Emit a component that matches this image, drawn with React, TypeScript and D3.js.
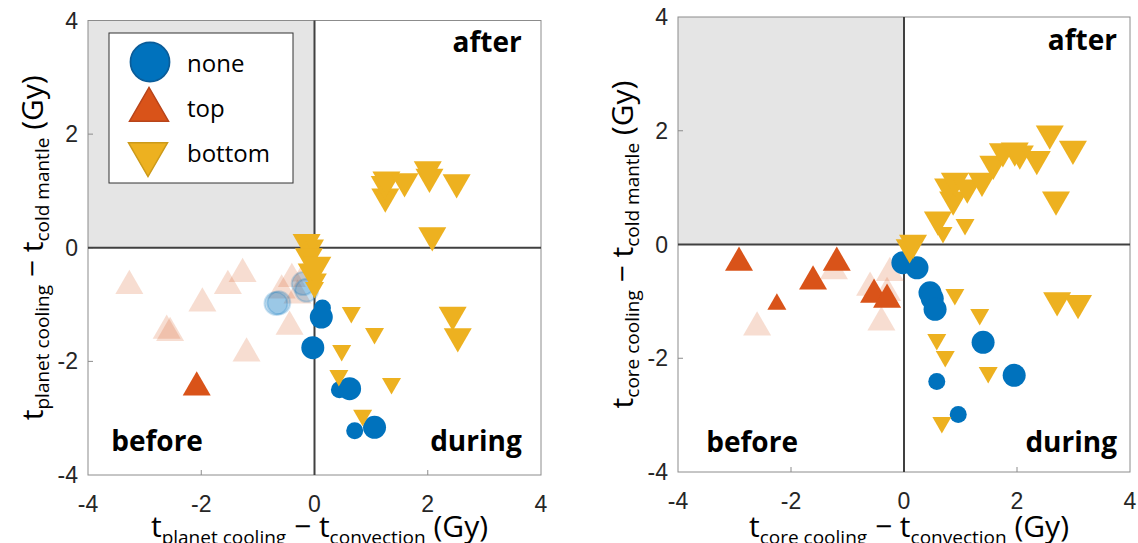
import React from "react";
import * as d3 from "d3";

// ---------- data (value x, value y, size class) ----------
const tickValues = [-4, -2, 0, 2, 4];
const tickLabels = ["-4", "-2", "0", "2", "4"];
const legendLabels = ["none", "top", "bottom"];

const leftNone = [[0.14,-1.06,1],[0.12,-1.22,2],[-0.03,-1.76,2],[0.44,-2.5,1],[0.62,-2.48,2],[0.71,-3.22,1],[1.06,-3.16,2]];
const leftNoneFaded = [[-0.68,-0.98,2],[-0.63,-0.97,2],[-0.14,-0.75,2],[-0.2,-0.63,2]];
const leftTop = [[-2.08,-2.46,2]];
const leftTopFaded = [[-3.27,-0.67,2],[-1.98,-0.98,2],[-2.61,-1.46,2],[-2.55,-1.5,2],[-1.53,-0.67,2],[-1.27,-0.46,2],[-1.2,-1.86,2],[-0.58,-0.75,2],[-0.44,-1.39,2],[-0.3,-0.84,2],[-0.4,-0.55,2],[-0.15,-0.45,2]];
const leftBottom = [[-0.14,0.1,2],[0.0,0.05,1],[-0.1,-0.15,2],[0.05,-0.3,2],[-0.05,-0.42,2],[0.05,-0.55,1],[0.0,-0.7,1],
  [0.65,-1.14,1],[1.06,-1.51,1],[0.48,-1.81,1],[0.43,-2.25,1],[1.36,-2.39,1],[0.85,-2.95,1],[2.44,-1.18,2],[2.53,-1.56,2],
  [1.25,0.9,2],[1.24,1.12,2],[1.27,1.2,2],[1.59,1.17,2],[2.03,1.25,2],[2.0,1.38,2],[2.51,1.15,2],[2.08,0.22,2]];

const rightNone = [[-0.02,-0.32,2],[0.23,-0.41,2],[0.46,-0.85,2],[0.5,-0.95,2],[0.55,-1.14,2],[1.4,-1.72,2],[1.95,-2.3,2],[0.58,-2.41,1],[0.96,-2.99,1]];
const rightNoneFaded: number[][] = [];
const rightTop = [[-2.92,-0.32,2],[-2.25,-1.05,1],[-1.61,-0.65,2],[-1.19,-0.32,2],[-0.53,-0.88,2],[-0.3,-0.97,2]];
const rightTopFaded = [[-2.6,-1.46,2],[-1.24,-0.47,2],[-0.6,-0.76,2],[-0.4,-1.37,2],[-0.25,-0.5,2],[-0.3,-0.85,2]];
const rightBottom = [[0.1,-0.05,2],[0.16,0.03,2],[0.69,0.21,1],[0.6,0.44,2],[1.08,0.35,1],[0.87,0.79,2],[0.78,1.02,2],[0.9,1.12,2],[1.12,1.0,2],[1.38,1.12,2],
  [1.58,1.42,2],[1.75,1.64,2],[1.96,1.65,2],[2.05,1.6,2],[2.35,1.5,2],[2.58,1.95,2],[2.99,1.68,2],[2.69,0.79,2],
  [0.9,-0.88,1],[1.34,-1.23,1],[0.58,-1.67,1],[0.73,-1.97,1],[1.49,-2.25,1],[0.67,-3.13,1],[2.71,-0.98,2],[3.08,-1.03,2]];

const BLUE = "#0072BD", ORANGE = "#D95319", YELLOW = "#EDB120";

const radiusOf = d3.scaleOrdinal<number, number>().domain([1, 2]).range([8.5, 11.5]);
const triWidthOf = d3.scaleOrdinal<number, number>().domain([1, 2]).range([19, 28]);

function circlePath(s: number) {
  const r = radiusOf(s);
  return d3.symbol(d3.symbolCircle, Math.PI * r * r)()!;
}
function triPath(s: number) {
  const w = triWidthOf(s);
  return d3.symbol(d3.symbolTriangle, (Math.sqrt(3) / 4) * w * w)()!;
}

type Panel = {
  x0: number; x1: number; y0: number; y1: number;
  none: number[][]; noneFaded: number[][]; top: number[][]; topFaded: number[][]; bottom: number[][];
  xSub: string; ySub: string; legend: boolean;
  afterX: number; duringX: number; beforeX: number; labelY: number; afterY: number;
};

const panels: Panel[] = [
  { x0: 88, x1: 541, y0: 475, y1: 20.5, none: leftNone, noneFaded: leftNoneFaded, top: leftTop, topFaded: leftTopFaded, bottom: leftBottom,
    xSub: "planet cooling", ySub: "planet cooling", legend: true, afterX: 3.66, duringX: 3.66, beforeX: -3.59, labelY: -3.57, afterY: 3.45 },
  { x0: 678, x1: 1130, y0: 472, y1: 17, none: rightNone, noneFaded: rightNoneFaded, top: rightTop, topFaded: rightTopFaded, bottom: rightBottom,
    xSub: "core cooling", ySub: "core cooling", legend: false, afterX: 3.77, duringX: 3.77, beforeX: -3.5, labelY: -3.65, afterY: 3.42 },
];

const TXT = "Open Sans, Lato, sans-serif";
const TICK = "Liberation Sans, Arial, sans-serif";

function PanelView({ p }: { p: Panel }) {
  const x = d3.scaleLinear().domain([-4, 4]).range([p.x0, p.x1]);
  const y = d3.scaleLinear().domain([-4, 4]).range([p.y0, p.y1]);
  const cx = (x(-4) + x(4)) / 2;
  const cy = (y(-4) + y(4)) / 2;
  return (
    <g>
      <rect x={x(-4)} y={y(4)} width={x(0) - x(-4)} height={y(0) - y(4)} fill="#e5e5e5" />
      <rect x={x(-4)} y={y(4)} width={x(4) - x(-4)} height={y(-4) - y(4)} fill="none" stroke="#8c8c8c" strokeWidth={1} />
      {tickValues.slice(1, -1).map((t) => (
        <g key={t}>
          <line x1={x(t)} x2={x(t)} y1={y(-4)} y2={y(-4) - 5} stroke="#8c8c8c" />
          <line x1={x(-4)} x2={x(-4) + 5} y1={y(t)} y2={y(t)} stroke="#8c8c8c" />
        </g>
      ))}
      <line x1={x(0)} x2={x(0)} y1={y(-4)} y2={y(4)} stroke="#404040" strokeWidth={2} />
      <line x1={x(-4)} x2={x(4)} y1={y(0)} y2={y(0)} stroke="#404040" strokeWidth={2} />
      {/* faded markers */}
      {p.topFaded.map((d, i) => (
        <path key={"tf" + i} d={triPath(d[2])} transform={`translate(${x(d[0])},${y(d[1])})`} fill={ORANGE} fillOpacity={0.2} />
      ))}
      {p.noneFaded.map((d, i) => (
        <path key={"nf" + i} d={circlePath(d[2])} transform={`translate(${x(d[0])},${y(d[1])})`} fill={BLUE} fillOpacity={0.22} stroke={BLUE} strokeOpacity={0.2} strokeWidth={2} />
      ))}
      {p.none.map((d, i) => (
        <path key={"n" + i} d={circlePath(d[2])} transform={`translate(${x(d[0])},${y(d[1])})`} fill={BLUE} />
      ))}
      {p.top.map((d, i) => (
        <path key={"t" + i} d={triPath(d[2])} transform={`translate(${x(d[0])},${y(d[1])})`} fill={ORANGE} />
      ))}
      {p.bottom.map((d, i) => (
        <path key={"b" + i} d={triPath(d[2])} transform={`translate(${x(d[0])},${y(d[1])}) rotate(180)`} fill={YELLOW} />
      ))}
      {/* quadrant labels */}
      <text x={x(p.afterX)} y={y(p.afterY)} textAnchor="end" fontFamily={TXT} fontWeight="bold" fontSize={28} fill="#000">after</text>
      <text x={x(p.beforeX)} y={y(p.labelY)} textAnchor="start" fontFamily={TXT} fontWeight="bold" fontSize={28} fill="#000">before</text>
      <text x={x(p.duringX)} y={y(p.labelY)} textAnchor="end" fontFamily={TXT} fontWeight="bold" fontSize={28} fill="#000">during</text>
      {/* tick labels */}
      {tickValues.map((t, i) => (
        <text key={"xt" + t} x={x(t)} y={y(-4) + 37} textAnchor="middle" fontFamily={TICK} fontSize={23} fill="#262626">{tickLabels[i]}</text>
      ))}
      {tickValues.map((t, i) => (
        <text key={"yt" + t} x={x(-4) - 10} y={y(t) + 8} textAnchor="end" fontFamily={TICK} fontSize={23} fill="#262626">{tickLabels[i]}</text>
      ))}
      {/* axis labels */}
      <text x={cx + 5} y={537} textAnchor="middle" fontFamily={TXT} fill="#000">
        <tspan fontSize={30}>t</tspan>
        <tspan fontSize={19} dy={7}>{p.xSub}</tspan>
        <tspan fontSize={30} dy={-7}>{" \u2212 t"}</tspan>
        <tspan fontSize={19} dy={7}>convection</tspan>
        <tspan fontSize={30} dy={-7}>{" (Gy)"}</tspan>
      </text>
      <text transform={`translate(${x(-4) - 45},${cy}) rotate(-90)`} textAnchor="middle" fontFamily={TXT} fill="#000">
        <tspan fontSize={30}>t</tspan>
        <tspan fontSize={19} dy={6}>{p.ySub}</tspan>
        <tspan fontSize={30} dy={-6}>{" \u2212 t"}</tspan>
        <tspan fontSize={19} dy={6}>cold mantle</tspan>
        <tspan fontSize={30} dy={-6}>{" (Gy)"}</tspan>
      </text>
      {p.legend && (
        <g>
          <rect x={109} y={33} width={184} height={150} fill="#fff" stroke="#333" strokeWidth={1} />
          <path d={circlePath(2)} transform="translate(150,62) scale(1.7)" fill={BLUE} stroke="#0a5c99" strokeWidth={1} />
          <path d={triPath(2)} transform="translate(149,110) scale(1.4)" fill={ORANGE} stroke="#b8441a" strokeWidth={1} />
          <path d={triPath(2)} transform="translate(148,154) scale(1.4) rotate(180)" fill={YELLOW} stroke="#cc9a1a" strokeWidth={1} />
          {legendLabels.map((l, i) => (
            <text key={l} x={187} y={72 + i * 45} fontFamily={TXT} fontSize={24} fill="#000">{l}</text>
          ))}
        </g>
      )}
    </g>
  );
}

export default function App() {
  return (
    <svg width={1138} height={543} style={{ position: "absolute", left: 0, top: 0, background: "#fff" }}>
      {panels.map((p, i) => <PanelView key={i} p={p} />)}
    </svg>
  );
}
